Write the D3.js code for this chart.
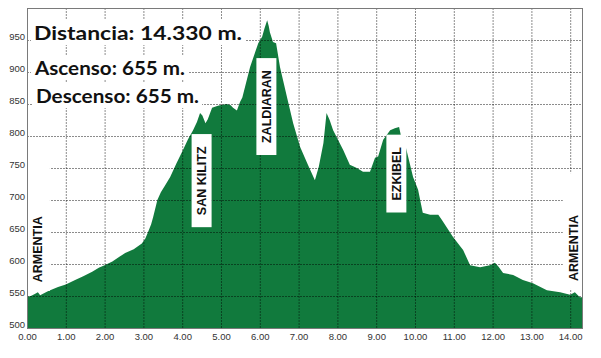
<!DOCTYPE html>
<html><head><meta charset="utf-8">
<script src="https://cdn.jsdelivr.net/npm/d3@7"></script>
<style>
html,body{margin:0;padding:0;background:#fff;}
svg{display:block;}
</style></head>
<body>
<svg id="c" width="601" height="358"></svg>
<script>
// ---- data ----
const distanceKm = [0.00,0.10,0.20,0.28,0.34,0.40,0.55,0.80,1.00,1.24,1.45,1.68,1.85,2.00,2.20,2.40,2.53,2.75,2.96,3.05,3.12,3.20,3.25,3.36,3.45,3.55,3.69,3.85,4.02,4.15,4.28,4.38,4.46,4.52,4.60,4.66,4.77,4.90,4.97,5.15,5.25,5.31,5.41,5.49,5.55,5.75,5.96,6.06,6.12,6.19,6.23,6.26,6.34,6.42,6.52,6.70,6.86,7.04,7.24,7.42,7.52,7.64,7.72,7.80,7.89,8.15,8.32,8.50,8.66,8.84,8.97,9.05,9.18,9.36,9.48,9.59,9.66,9.77,9.95,10.08,10.20,10.39,10.60,10.69,10.98,11.24,11.42,11.68,11.93,12.06,12.15,12.27,12.53,12.78,13.04,13.40,13.74,14.00,14.12,14.25,14.33];
const elevationM = [549,550,553,556,551,553,558,564,568,575,581,588,594,598,604,612,617,623,632,640,650,662,673,700,712,722,736,757,778,795,809,822,836,832,820,826,844,847,848,850,848,844,840,853,860,908,945,955,968,981,972,962,947,945,908,861,820,783,755,731,752,789,836,825,809,778,755,750,744,744,766,768,794,809,812,814,794,781,736,716,680,677,677,669,642,622,598,595,598,602,596,586,583,575,570,559,556,552,556,548,548];
const xTicks = [0,1,2,3,4,5,6,7,8,9,10,11,12,13,14];
const yTicks = [500,550,600,650,700,750,800,850,900,950];
const summaryLines = ["Distancia: 14.330 m.","Ascenso: 655 m.","Descenso: 655 m."];
const placeNames = ["SAN KILITZ","ZALDIARAN","EZKIBEL"];
const placeKm = [4.50,6.17,9.52];
const placeElev = [730,846,741];
const endNames = ["ARMENTIA","ARMENTIA"];
const endKm = [0.28,14.09];
const endElev = [623,625];
const endBoxKm = [[0,0.59],[13.81,14.33]];
const endBoxElev = [[558,778],[561,742]];

// ---- layout ----
const L=27,R=583,T=8,B=328;
const svg=d3.select("#c");
const x=d3.scaleLinear().domain([0,14.33]).range([L,R]);
const y=d3.scaleLinear().domain([500,1000]).range([B,T]);
const pts=distanceKm.map((d,i)=>[d,elevationM[i]]);

// area
svg.append("path").datum(pts)
  .attr("d",d3.area().x(d=>x(d[0])).y0(y(500)).y1(d=>y(d[1])))
  .attr("fill","#117a3d");

// grid (dotted) via d3 axes with full-length ticks
const gx=svg.append("g").attr("transform",`translate(0,${T})`)
  .call(d3.axisBottom(x).tickValues(xTicks.filter(t=>t>0)).tickSize(B-T).tickFormat(""));
gx.select(".domain").remove();
const gy=svg.append("g").attr("transform",`translate(${L},0)`)
  .call(d3.axisRight(y).tickValues(yTicks.filter(t=>t>500)).tickSize(R-L).tickFormat(""));
gy.select(".domain").remove();
svg.selectAll(".tick line").attr("stroke","#000").attr("stroke-opacity",0.45)
  .attr("stroke-width",1).attr("stroke-dasharray","2,1");

// frame
svg.append("rect").attr("x",L+0.5).attr("y",T+0.5).attr("width",R-L-1).attr("height",B-T)
  .attr("fill","none").attr("stroke","#7a7a7a").attr("stroke-width",1);

// axes labels
const tickFont="'Liberation Sans', Arial, sans-serif";
const xa=svg.append("g").attr("transform",`translate(0,${B})`)
  .call(d3.axisBottom(x).tickValues(xTicks).tickFormat(d3.format(".2f")).tickSize(0).tickPadding(5));
xa.select(".domain").remove();
xa.selectAll("text").attr("font-family",tickFont).attr("font-size","9.5px").attr("fill","#333");
const ya=svg.append("g").attr("transform",`translate(${L},0)`)
  .call(d3.axisLeft(y).tickValues(yTicks).tickSize(0).tickPadding(2));
ya.select(".domain").remove();
ya.selectAll("text").attr("font-family",tickFont).attr("font-size","9.5px").attr("fill","#333").attr("dy","-0.05em");

// summary text with white background
const sumY=[40,75,103], sumX=[34,35,36], sumW=[208,150,163];
summaryLines.forEach((s,i)=>{
  const t=svg.append("text").attr("x",sumX[i]).attr("y",sumY[i])
    .attr("font-family","Lato, 'Open Sans', sans-serif").attr("font-weight","bold")
    .attr("font-size","19.5px").attr("fill","#111")
    .attr("textLength",sumW[i]).attr("lengthAdjust","spacingAndGlyphs").text(s);
  const bb=t.node().getBBox();
  svg.insert("rect",()=>t.node()).attr("x",bb.x-3).attr("y",bb.y-1).attr("width",bb.width+6).attr("height",bb.height+2).attr("fill","#fff");
});

// place labels (white boxes, vertical text)
const lblFont="'Liberation Sans', Arial, sans-serif";
placeNames.forEach((n,i)=>{
  const cx=x(placeKm[i]), cy=y(placeElev[i]);
  const gg=svg.append("g").attr("transform",`translate(${cx},${cy}) rotate(-90)`);
  const t=gg.append("text").attr("text-anchor","middle").attr("dy","0.36em")
    .attr("font-family",lblFont).attr("font-weight","bold").attr("font-size","12.5px").attr("fill","#111").text(n);
  const bb=t.node().getBBox();
  gg.insert("rect","text").attr("x",bb.x-12).attr("y",-10).attr("width",bb.width+24).attr("height",20).attr("fill","#fff");
});
endNames.forEach((n,i)=>{
  svg.append("rect").attr("x",x(endBoxKm[i][0])).attr("width",x(endBoxKm[i][1])-x(endBoxKm[i][0]))
    .attr("y",y(endBoxElev[i][1])).attr("height",y(endBoxElev[i][0])-y(endBoxElev[i][1])).attr("fill","#fff");
  const cx=x(endKm[i]), cy=y(endElev[i]);
  const gg=svg.append("g").attr("transform",`translate(${cx},${cy}) rotate(-90)`);
  gg.append("text").attr("text-anchor","middle").attr("dy","0.36em")
    .attr("font-family",lblFont).attr("font-weight","bold").attr("font-size","12.5px").attr("fill","#111").text(n);
});
// redraw frame edges over end boxes
svg.append("rect").attr("x",L+0.5).attr("y",T+0.5).attr("width",R-L-1).attr("height",B-T)
  .attr("fill","none").attr("stroke","#7a7a7a").attr("stroke-width",1);
</script>
</body></html>
